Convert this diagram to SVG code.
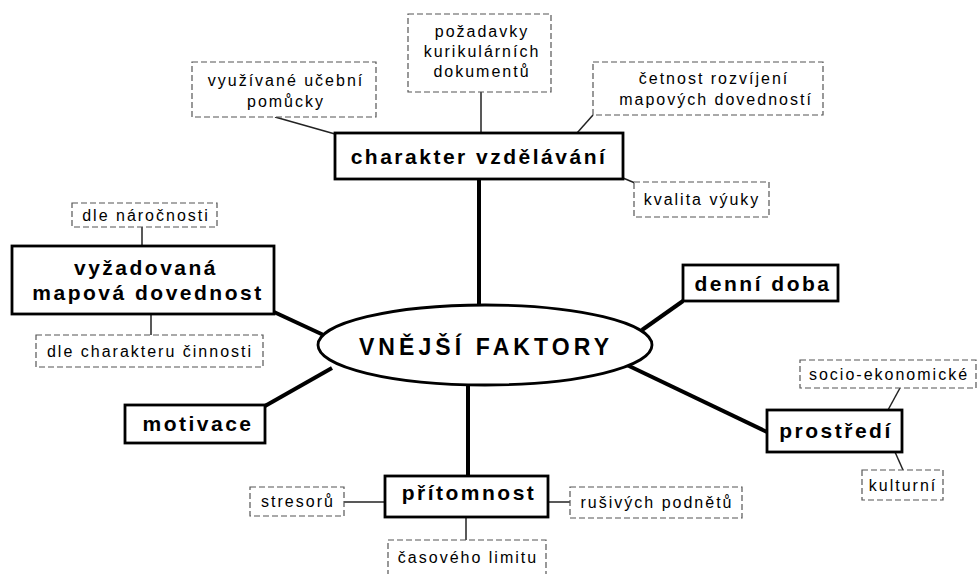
<svg xmlns="http://www.w3.org/2000/svg" width="978" height="574" viewBox="0 0 978 574">
  <style>
    .node { fill: #fff; stroke: #000; stroke-width: 2.8; }
    .leaf { fill: #fff; stroke: #555; stroke-width: 1.2; stroke-dasharray: 6 3; }
    .thick { stroke: #000; stroke-width: 4; fill: none; }
    .thin { stroke: #222; stroke-width: 1.5; fill: none; }
    .t-main { font-family: "Liberation Sans", Arial, sans-serif; font-weight: bold; font-size: 23px; letter-spacing: 4.1px; text-anchor: middle; fill: #000; }
    .t-node { font-family: "Liberation Sans", Arial, sans-serif; font-weight: bold; font-size: 21px; letter-spacing: 2.5px; text-anchor: middle; fill: #000; }
    .t-leaf { font-family: "Liberation Sans", Arial, sans-serif; font-size: 16px; letter-spacing: 2px; text-anchor: middle; fill: #000; }
  </style>
  <rect width="978" height="574" fill="#fff"/>

  <!-- connectors: thick spokes from the centre, thin ties to the leaf boxes -->
  <g id="connectors">
    <line class="thick" x1="479" y1="179" x2="479" y2="306"/>
    <line class="thick" x1="274" y1="312" x2="330" y2="338"/>
    <line class="thick" x1="265" y1="406" x2="332" y2="368"/>
    <line class="thick" x1="683" y1="301" x2="642" y2="330"/>
    <line class="thick" x1="767" y1="432" x2="627" y2="365"/>
    <line class="thick" x1="468" y1="384" x2="468" y2="477"/>
    <line class="thin" x1="481" y1="92" x2="481" y2="133"/>
    <line class="thin" x1="275" y1="117" x2="335" y2="134"/>
    <line class="thin" x1="593" y1="115" x2="577" y2="133"/>
    <line class="thin" x1="623" y1="178" x2="635" y2="183"/>
    <line class="thin" x1="142" y1="227" x2="142" y2="246"/>
    <line class="thin" x1="151" y1="314" x2="151" y2="335"/>
    <line class="thin" x1="900" y1="388" x2="888" y2="410"/>
    <line class="thin" x1="895" y1="452" x2="903" y2="470"/>
    <line class="thin" x1="344" y1="502" x2="385" y2="502"/>
    <line class="thin" x1="548" y1="502" x2="570" y2="502"/>
    <line class="thin" x1="466" y1="517" x2="466" y2="540"/>
  </g>

  <g id="vnejsi-faktory">
    <ellipse class="node" cx="485" cy="345" rx="167" ry="40" stroke-width="3"/>
    <text class="t-main" x="486" y="355">VNĚJŠÍ FAKTORY</text>
  </g>

  <g id="charakter-vzdelavani">
    <rect class="node" x="335" y="133" width="288" height="46"/>
    <text class="t-node" x="479" y="164">charakter vzdělávání</text>
  </g>
  <g id="pozadavky">
    <rect class="leaf" x="408" y="14" width="143" height="78"/>
    <text class="t-leaf" x="482" y="37">požadavky</text>
    <text class="t-leaf" x="482" y="57">kurikulárních</text>
    <text class="t-leaf" x="482" y="77">dokumentů</text>
  </g>
  <g id="vyuzivane-pomucky">
    <rect class="leaf" x="192" y="62" width="184" height="55"/>
    <text class="t-leaf" x="286" y="86">využívané učební</text>
    <text class="t-leaf" x="286" y="107">pomůcky</text>
  </g>
  <g id="cetnost">
    <rect class="leaf" x="593" y="62" width="230" height="53"/>
    <text class="t-leaf" x="714" y="84">četnost rozvíjení</text>
    <text class="t-leaf" x="716" y="105">mapových dovedností</text>
  </g>
  <g id="kvalita-vyuky">
    <rect class="leaf" x="634" y="182" width="135" height="35"/>
    <text class="t-leaf" x="702" y="205">kvalita výuky</text>
  </g>

  <g id="vyzadovana-dovednost">
    <rect class="node" x="12" y="246" width="262" height="68"/>
    <text class="t-node" x="146" y="275">vyžadovaná</text>
    <text class="t-node" x="148" y="300">mapová dovednost</text>
  </g>
  <g id="dle-narocnosti">
    <rect class="leaf" x="72" y="203" width="145" height="24"/>
    <text class="t-leaf" x="146" y="221">dle náročnosti</text>
  </g>
  <g id="dle-charakteru">
    <rect class="leaf" x="36" y="335" width="227" height="32"/>
    <text class="t-leaf" x="150" y="357">dle charakteru činnosti</text>
  </g>

  <g id="motivace">
    <rect class="node" x="125" y="405" width="140" height="38"/>
    <text class="t-node" x="198" y="431">motivace</text>
  </g>

  <g id="denni-doba">
    <rect class="node" x="683" y="265" width="155" height="36"/>
    <text class="t-node" x="763" y="291">denní doba</text>
  </g>

  <g id="prostredi">
    <rect class="node" x="767" y="410" width="135" height="42"/>
    <text class="t-node" x="836" y="438">prostředí</text>
  </g>
  <g id="socio-ekonomicke">
    <rect class="leaf" x="800" y="360" width="176" height="28"/>
    <text class="t-leaf" x="889" y="380">socio-ekonomické</text>
  </g>
  <g id="kulturni">
    <rect class="leaf" x="862" y="470" width="81" height="30"/>
    <text class="t-leaf" x="903" y="491">kulturní</text>
  </g>

  <g id="pritomnost">
    <rect class="node" x="385" y="476" width="163" height="41"/>
    <text class="t-node" x="469" y="500">přítomnost</text>
  </g>
  <g id="stresoru">
    <rect class="leaf" x="250" y="487" width="94" height="29"/>
    <text class="t-leaf" x="298" y="507">stresorů</text>
  </g>
  <g id="rusivych-podnetu">
    <rect class="leaf" x="570" y="487" width="172" height="31"/>
    <text class="t-leaf" x="657" y="508">rušivých podnětů</text>
  </g>
  <g id="casoveho-limitu">
    <rect class="leaf" x="388" y="540" width="158" height="40"/>
    <text class="t-leaf" x="468" y="563">časového limitu</text>
  </g>
</svg>
